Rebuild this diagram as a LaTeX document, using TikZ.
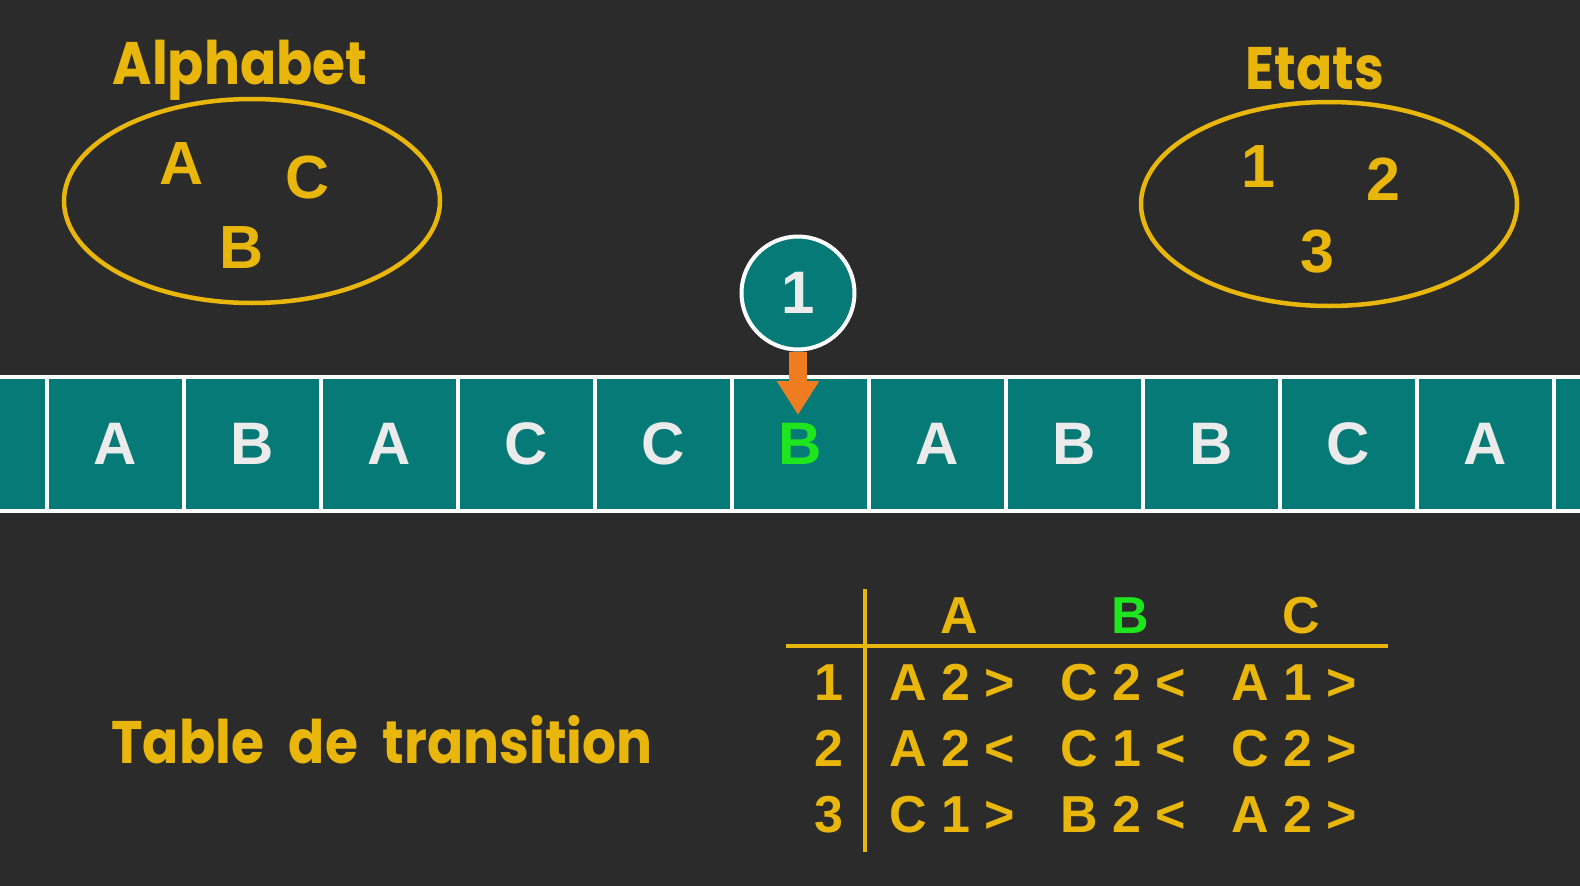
\documentclass[tikz,border=0pt]{standalone}
\usepackage{fontspec}
\setmainfont{Liberation Sans}
\newfontfamily\chalkfont{Poppins}[FakeStretch=0.89, WordSpace=2.2]
\usetikzlibrary{arrows.meta}
\usetikzlibrary{positioning}
\usetikzlibrary{shapes.geometric}

\definecolor{board}{HTML}{2B2B2B}
\definecolor{tapeteal}{HTML}{067A77}
\definecolor{chalkyellow}{HTML}{E9B60C}
\definecolor{headgreen}{HTML}{1EE61E}
\definecolor{headorange}{HTML}{F07C22}

\tikzset{
  cell/.style={draw=white, line width=4pt, fill=tapeteal, minimum width=137pt, minimum height=134pt, inner sep=0pt, font=\fontsize{60}{60}\selectfont\bfseries},
  set/.style={ellipse, draw=chalkyellow, line width=4.5pt, minimum width=376pt, minimum height=204pt},
  member/.style={text=chalkyellow, inner sep=0pt, font=\fontsize{61}{61}\selectfont\bfseries},
  title/.style={text=chalkyellow, inner sep=0pt, anchor=base, font=\fontsize{60}{60}\chalkfont\bfseries},
  entry/.style={text=chalkyellow, inner sep=0pt, font=\fontsize{52}{52}\selectfont\bfseries},
}

\begin{document}
\begin{tikzpicture}[x=1pt, y=-1pt]
  \useasboundingbox (0,0) rectangle (1580,886);
  \fill [board] (0,0) rectangle (1580,886);
  \clip (0,0) rectangle (1580,886);

  % alphabet and states
  \node [title] (alphatitle) at (240,84) {Alphabet};
  \node [set] (alphaset) at (252,201) {};
  \node [member] (symA) at (182,164) {A};
  \node [member] (symC) at (308,177) {C};
  \node [member] (symB) at (242,248) {B};

  \node [title] (statetitle) at (1315,89) {Etats};
  \node [set] (stateset) at (1329,204) {};
  \node [member] (st1) at (1258,167) {1};
  \node [member] (st2) at (1383,179) {2};
  \node [member] (st3) at (1317,252) {3};

  % tape
  \foreach \sym/\col [count=\i from 0] in {{}/white, A/white, B/white, A/white, C/white, C/white, B/headgreen, A/white, B/white, B/white, C/white, A/white, {}/white}
    \node [cell, text=\col!92!black] (cell\i) at (46.5+137*\i-68.5,444) {\sym};
  \node [cell, text=headgreen] at (cell6) {B};

  % head
  \node [circle, draw=white, line width=4pt, fill=tapeteal, minimum size=113pt, inner sep=0pt, text=white!92!black, font=\fontsize{60}{60}\selectfont\bfseries] (head) at (798,293) {1};
  \coordinate (tip) at (798,415);
  \draw [-{Triangle[width=40pt, length=34pt]}, headorange, line width=18pt] (head.south) -- (tip);

  % transition table
  \node [title] (tabletitle) at (382,763) {Table de transition};
  \draw [chalkyellow, line width=4pt] (865,589) -- (865,852);
  \draw [chalkyellow, line width=4pt] (786,646) -- (1388,646);
  \node [entry, anchor=base] (colA) at (959,633) {A};
  \node [entry, anchor=base, text=headgreen] (colB) at (1130,633) {B};
  \node [entry, anchor=base] (colC) at (1301,633) {C};
  \foreach \st/\ea/\eb/\ec [count=\r] in {1/A 2 >/C 2 </A 1 >, 2/A 2 </C 1 </C 2 >, 3/C 1 >/B 2 </A 2 >} {
    \node [entry, anchor=base east] (row\r) at (844,634+66*\r) {\st};
    \node [entry, anchor=base west] (t\r a) at (889,634+66*\r) {\ea};
    \node [entry, anchor=base west] (t\r b) at (1060,634+66*\r) {\eb};
    \node [entry, anchor=base west] (t\r c) at (1231,634+66*\r) {\ec};
  }
\end{tikzpicture}
\end{document}
